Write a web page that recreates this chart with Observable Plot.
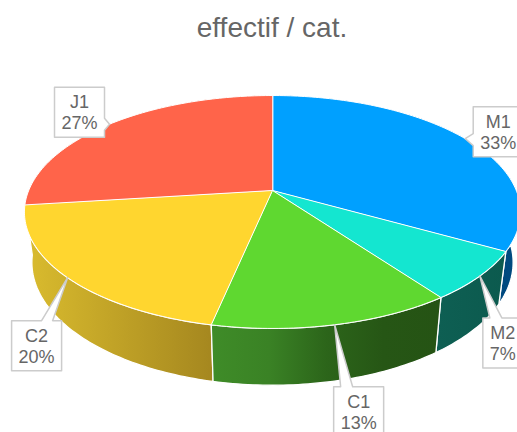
<!DOCTYPE html>
<html><head><meta charset="utf-8">
<script src="https://cdn.jsdelivr.net/npm/d3@7"></script>
<script src="https://cdn.jsdelivr.net/npm/@observablehq/plot@0.6"></script>
<style>
html,body{margin:0;padding:0;background:#fff;overflow:hidden;width:517px;height:432px}
#title{height:50px;font:28px/56px "Liberation Sans",Arial,sans-serif;color:#666;text-align:center;padding-left:27px;box-sizing:border-box;width:517px;white-space:nowrap}
svg{display:block}
</style></head><body>
<div id="title">effectif / cat.</div>
<div id="chart"></div>
<script>
const categories = ["M1","M2","C1","C2","J1"];
const shares = [33.2, 6.8, 13.3, 19.7, 27];
const topColors = ["#00a0ff","#14e6d0","#5fd830","#ffd62f","#ff644a"];
const sideStops = [
  ["#003f73","#004a80"],
  ["#0e5f53","#0c5a4e"],
  ["#3f8c28","#3a8225","#2c651a","#265615","#255314"],
  ["#dabc2e","#a5871f"],
  ["#a0402e","#a0402e"]
];
const sideOrder = [4, 0, 1, 3, 2];
const labelDx = [33, 23, 24, -31, -30];
const labelDy = [-7, 67, 87, 68, -12];
const labelW = [50, 40, 50, 50, 50];

const titleH = 50, W = 517, H = 432;
const cx = 272, cyTop = 190, a = 243.8, b = 112.5, p = 0.1845;
const sBottom = 0.97, cyBottom = 239.3, kBottom = 118.6;
const rad = Math.PI / 180;
const topPt = t => {
  const u = Math.sin(t), v = -Math.cos(t), w = 1 - p * v;
  return {x: cx + a * u / w, y: cyTop + b * v / w};
};
const botPt = t => {
  const u = Math.sin(t), v = -Math.cos(t), w = 1 - p * v;
  return {x: cx + sBottom * a * u / w, y: cyBottom + kBottom * v / w};
};
const total = d3.sum(shares);
let acc = 0;
const slices = categories.map((name, i) => {
  const t0 = acc / total * 2 * Math.PI;
  acc += shares[i];
  const t1 = acc / total * 2 * Math.PI;
  return {name, i, t0, t1, mid: (t0 + t1) / 2, pct: Math.round(shares[i] / total * 100)};
});
const arc = (f, t0, t1) => {
  const n = Math.max(2, Math.ceil((t1 - t0) / rad));
  return d3.range(n + 1).map(k => f(t0 + (t1 - t0) * k / n));
};
const topPoly = s => [{x: cx, y: cyTop}, ...arc(topPt, s.t0, s.t1)];
const sidePoly = s => [...arc(topPt, s.t0, s.t1), ...arc(botPt, s.t0, s.t1).reverse()];

const callout = s => {
  const tip = topPt(s.mid);
  const w = labelW[s.i], h = 50;
  const mx = tip.x + labelDx[s.i], my = tip.y + labelDy[s.i];
  const x0 = mx - w / 2, x1 = mx + w / 2, y0 = my - h / 2, y1 = my + h / 2;
  const pts = [[x0, y0]];
  if (tip.y < y0) {
    const bx = tip.x < mx ? [x0 + 7, x0 + 19] : [x1 - 20, x1 - 9];
    pts.push([bx[0], y0], [tip.x, tip.y], [bx[1], y0]);
  }
  pts.push([x1, y0]);
  if (tip.x > x1 && tip.y >= y0) pts.push([x1, tip.y - 6], [tip.x, tip.y], [x1, tip.y + 6]);
  pts.push([x1, y1], [x0, y1]);
  if (tip.x < x0 && tip.y >= y0) pts.push([x0, tip.y + 7], [tip.x, tip.y], [x0, tip.y - 5]);
  return {poly: pts.map(([x, y]) => ({x, y})), mx, my, text: `${s.name}\n${s.pct}%`};
};

const defs = () => {
  const d = d3.create("svg:defs");
  sideStops.forEach((stops, i) => {
    const g = d.append("linearGradient").attr("id", `side${i}`);
    stops.forEach((c, k) => g.append("stop")
      .attr("offset", k / (stops.length - 1)).attr("stop-color", c));
  });
  return d.node();
};
const poly = (pts, o) => Plot.line(pts, {x: "x", y: "y", curve: "linear-closed", ...o});
const calls = slices.map(callout);

const chart = Plot.plot({
  width: W, height: H - titleH,
  margin: 0,
  x: {domain: [0, W], range: [0, W], axis: null},
  y: {domain: [titleH, H], range: [0, H - titleH], axis: null},
  marks: [
    defs,
    ...sideOrder.map(i => slices[i]).map(s => poly(sidePoly(s), {fill: `url(#side${s.i})`, stroke: "#fff", strokeWidth: 1.3})),
    ...slices.map(s => poly(topPoly(s), {fill: topColors[s.i], stroke: "#fff", strokeWidth: 1})),
    ...calls.map(c => poly(c.poly, {fill: "#fff", stroke: "#ccc", strokeWidth: 1.5})),
    Plot.text(calls, {x: "mx", y: "my", text: "text", fontSize: 18, lineHeight: 1.17,
      fill: "#666", fontFamily: "Liberation Sans, Arial, sans-serif"})
  ]
});
document.getElementById("chart").append(chart);
</script>
</body></html>
